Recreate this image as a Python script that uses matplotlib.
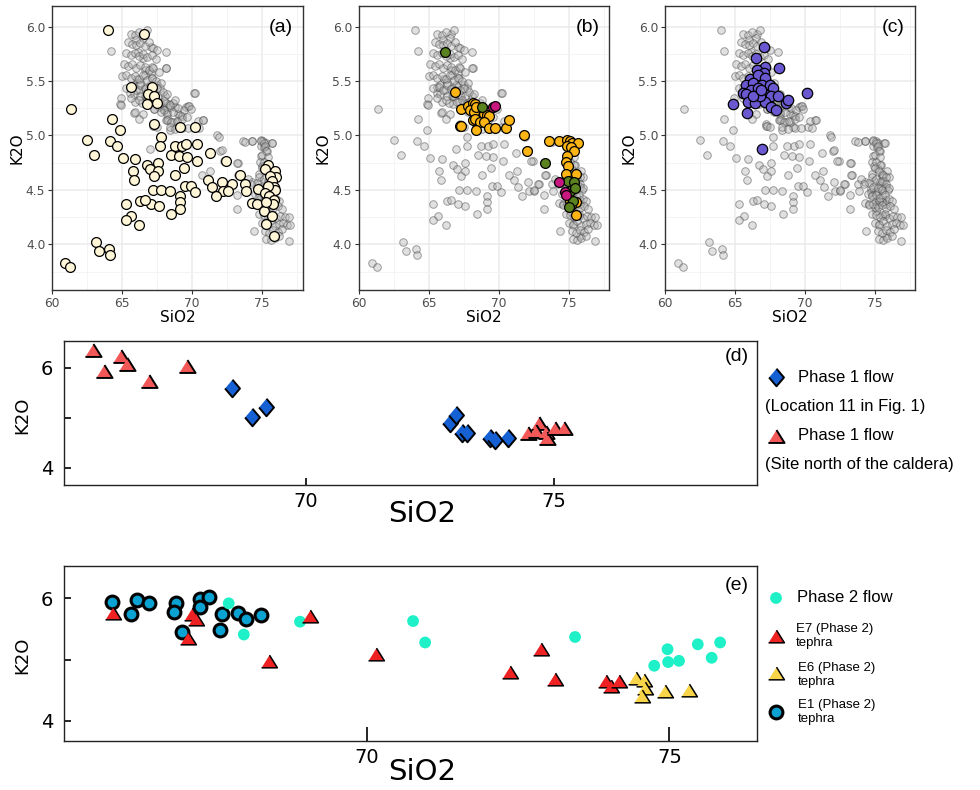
import numpy as np
import matplotlib.pyplot as plt

# ---- panels (a)-(c): glass compositions (SiO2, K2O) ----
# (a) highlighted samples (cream)
grp_a = [(64.0, 5.97), (66.57, 5.93), (61.33, 5.24), (65.6, 5.45), (67.1, 5.45), (66.86, 5.38),
         (67.26, 5.36), (66.74, 5.29), (67.5, 5.30), (64.24, 5.15), (67.24, 5.11), (64.83, 5.05),
         (69.12, 5.08), (70.21, 5.08), (62.5, 4.96), (64.12, 4.95), (64.64, 4.90), (67.74, 4.99),
         (67.69, 4.90), (68.76, 4.90), (69.24, 4.90), (69.55, 4.92), (70.36, 4.92), (62.98, 4.82),
         (65.07, 4.79), (65.93, 4.78), (68.5, 4.82), (69.05, 4.81), (69.6, 4.80), (70.31, 4.77),
         (71.26, 4.84), (72.45, 4.77), (66.74, 4.73), (66.98, 4.69), (67.55, 4.75), (69.45, 4.70),
         (65.74, 4.67), (67.55, 4.67), (67.26, 4.63), (68.79, 4.64), (65.83, 4.59), (73.4, 4.64),
         (71.12, 4.59), (71.4, 4.53), (72.1, 4.57), (72.86, 4.55), (73.81, 4.55), (73.88, 4.49),
         (67.17, 4.50), (67.74, 4.50), (68.4, 4.49), (69.5, 4.54), (69.9, 4.54), (70.19, 4.48),
         (72.17, 4.49), (72.55, 4.49), (71.69, 4.44), (69.12, 4.44), (69.14, 4.39), (69.14, 4.32),
         (67.07, 4.37), (67.6, 4.35), (66.26, 4.40), (66.6, 4.41), (65.26, 4.37), (68.45, 4.28),
         (65.62, 4.26), (65.26, 4.22), (66.21, 4.18), (74.71, 4.51), (74.29, 4.38), (74.6, 4.37),
         (75.1, 4.31), (75.31, 4.19), (75.74, 4.26), (75.83, 4.08), (75.43, 4.73), (75.24, 4.69),
         (75.9, 4.67), (76.02, 4.62), (75.55, 4.63), (75.67, 4.58), (75.83, 4.53), (75.93, 4.50),
         (75.43, 4.54), (75.19, 4.47), (75.5, 4.44), (75.83, 4.41), (75.79, 4.37), (75.31, 4.39),
         (63.12, 4.02), (63.36, 3.94), (64.07, 3.96), (64.12, 3.90), (60.9, 3.83), (61.26, 3.79)]

# (b) highlighted samples
grp_b_orange = [(66.84, 5.40), (67.27, 5.24), (67.79, 5.27), (68.14, 5.30), (68.33, 5.29), (67.95, 5.23),
                (68.19, 5.22), (68.38, 5.26), (68.97, 5.20), (69.16, 5.19), (69.28, 5.18), (67.19, 5.09),
                (67.28, 5.09), (68.14, 5.14), (68.28, 5.15), (68.62, 5.12), (68.93, 5.12), (68.38, 5.05),
                (69.28, 5.07), (69.73, 5.07), (70.51, 5.07), (70.75, 5.14), (71.8, 5.00), (72.01, 4.86),
                (73.6, 4.95), (74.27, 4.95), (74.91, 4.96), (75.07, 4.95), (75.26, 4.93), (75.69, 4.93),
                (74.91, 4.90), (75.14, 4.89), (75.38, 4.86), (74.91, 4.81), (74.83, 4.76), (74.98, 4.72),
                (74.79, 4.65), (75.5, 4.65), (75.5, 4.39), (75.5, 4.27), (75.07, 4.40), (75.19, 4.36)]
grp_b_green = [(66.15, 5.77), (68.78, 5.26), (73.29, 4.75), (74.95, 4.58), (75.4, 4.57), (75.1, 4.49),
               (75.3, 4.40), (75.05, 4.34), (75.45, 4.52)]
grp_b_pink = [(69.57, 5.26), (69.73, 5.27), (74.27, 4.57), (74.74, 4.48), (74.83, 4.45)]

# (c) highlighted samples (purple)
grp_c = [(67.05, 5.81), (66.48, 5.71), (68.12, 5.62), (67.14, 5.63), (66.6, 5.60), (67.05, 5.57),
         (66.05, 5.52), (66.65, 5.56), (67.12, 5.53), (65.82, 5.46), (66.29, 5.48), (66.96, 5.46),
         (67.48, 5.46), (67.72, 5.44), (66.17, 5.42), (66.65, 5.44), (65.58, 5.39), (65.82, 5.38),
         (66.65, 5.36), (67.24, 5.37), (67.55, 5.36), (68.07, 5.36), (70.14, 5.39), (64.87, 5.29),
         (65.94, 5.31), (66.41, 5.30), (67.12, 5.31), (67.6, 5.26), (68.66, 5.30), (68.78, 5.33),
         (65.86, 5.21), (67.95, 5.23), (66.95, 4.88), (66.77, 5.36), (66.29, 5.36), (66.84, 5.42)]

# remaining samples, only shown as the grey background
grp_other = [(65.6, 5.93), (65.9, 5.92), (66.2, 5.95), (66.5, 5.90), (66.8, 5.97), (66.0, 5.88),
             (65.4, 5.86), (65.7, 5.84), (66.0, 5.83), (66.3, 5.85), (66.6, 5.82), (66.9, 5.86),
             (67.2, 5.80), (67.5, 5.79), (65.3, 5.76), (65.6, 5.74), (65.9, 5.76), (66.2, 5.73),
             (66.5, 5.75), (66.8, 5.72), (67.1, 5.74), (67.4, 5.70), (65.1, 5.66), (65.4, 5.64),
             (65.7, 5.66), (66.0, 5.62), (66.3, 5.65), (66.6, 5.63), (66.9, 5.60), (67.2, 5.62),
             (67.6, 5.58), (65.0, 5.55), (65.3, 5.56), (65.6, 5.53), (65.9, 5.55), (66.2, 5.52),
             (66.5, 5.56), (66.8, 5.51), (67.1, 5.53), (67.4, 5.50), (67.8, 5.48), (65.3, 5.44),
             (65.7, 5.45), (66.0, 5.42), (66.3, 5.46), (66.6, 5.43), (66.9, 5.40), (67.2, 5.42),
             (67.5, 5.44), (67.9, 5.40), (68.2, 5.38), (65.6, 5.34), (66.2, 5.33), (66.7, 5.36),
             (67.0, 5.31), (67.4, 5.33), (67.7, 5.30), (68.0, 5.32), (68.4, 5.28), (66.5, 5.20),
             (67.3, 5.24), (67.8, 5.22), (68.2, 5.20), (68.6, 5.22), (69.0, 5.25), (69.4, 5.23),
             (69.8, 5.27), (69.9, 5.24), (68.2, 5.14), (68.5, 5.12), (68.9, 5.13), (69.3, 5.15),
             (69.6, 5.17), (68.4, 5.08), (68.8, 5.06), (70.4, 5.13), (70.8, 5.14), (67.5, 5.08),
             (64.2, 5.78), (68.1, 5.77), (68.1, 5.62), (70.2, 5.39), (64.9, 5.34), (64.9, 5.28),
             (65.9, 5.22), (66.2, 5.15),
             (74.3, 4.95), (74.9, 4.95), (75.1, 4.93), (75.7, 4.93), (75.2, 4.90), (75.3, 4.86),
             (75.0, 4.82), (75.4, 4.80), (75.1, 4.76), (75.4, 4.73), (75.0, 4.70), (75.3, 4.67),
             (75.6, 4.64), (74.8, 4.62), (75.1, 4.60), (75.5, 4.58), (75.8, 4.62), (74.6, 4.56),
             (74.9, 4.53), (75.2, 4.52), (75.5, 4.50), (75.8, 4.55), (76.0, 4.52), (74.5, 4.46),
             (74.8, 4.44), (75.1, 4.45), (75.4, 4.43), (75.7, 4.45), (76.0, 4.42), (76.2, 4.40),
             (74.6, 4.36), (74.9, 4.37), (75.2, 4.34), (75.5, 4.36), (75.8, 4.33), (76.1, 4.35),
             (76.4, 4.32), (74.8, 4.28), (75.1, 4.27), (75.4, 4.25), (75.7, 4.28), (76.0, 4.24),
             (76.3, 4.26), (76.6, 4.25), (75.0, 4.20), (75.3, 4.18), (75.6, 4.21), (75.9, 4.17),
             (76.2, 4.19), (76.5, 4.20), (76.8, 4.18), (75.2, 4.12), (75.5, 4.10), (75.8, 4.13),
             (76.1, 4.11), (76.4, 4.14), (75.3, 4.05), (75.6, 4.04), (75.9, 4.06), (76.2, 4.08),
             (74.4, 4.12), (76.9, 4.03), (77.0, 4.18), (76.9, 4.25),
             (72.1, 4.87), (72.3, 4.77), (73.2, 4.75), (73.3, 4.64), (72.8, 4.55), (72.5, 4.50),
             (73.2, 4.45), (73.2, 4.32), (71.9, 4.99), (70.7, 4.64), (71.3, 4.67), (73.8, 4.94),
             (74.0, 4.60), (74.2, 4.55)]

# ---- panel (d): Phase 1 flow ----
d_loc11 = [(68.51, 5.60), (68.91, 5.02), (69.19, 5.22), (72.91, 4.89), (73.03, 5.06), (73.14, 4.70),
           (73.24, 4.70), (73.71, 4.59), (73.81, 4.56), (74.08, 4.60)]
d_north = [(65.70, 6.35), (65.92, 5.93), (66.26, 6.23), (66.39, 6.08), (66.83, 5.74), (67.59, 6.04),
           (74.48, 4.70), (74.71, 4.90), (74.64, 4.74), (74.85, 4.71), (74.86, 4.59), (75.03, 4.79),
           (75.21, 4.79)]

# ---- panel (e): Phase 2 flow and tephra ----
e_e1 = [(65.78, 5.94), (66.09, 5.75), (66.19, 5.97), (66.39, 5.92), (66.83, 5.92), (66.80, 5.78),
        (66.93, 5.45), (67.24, 5.99), (67.24, 5.86), (67.39, 6.03), (67.60, 5.74), (67.57, 5.48),
        (67.87, 5.77), (68.00, 5.66), (68.24, 5.73)]
e_flow = [(67.71, 5.92), (68.89, 5.62), (67.96, 5.41), (70.76, 5.63), (70.96, 5.28), (73.44, 5.37),
          (74.97, 5.17), (74.75, 4.90), (74.98, 4.96), (75.16, 4.98), (75.47, 5.25), (75.70, 5.03),
          (75.84, 5.28)]
e_e7 = [(65.79, 5.77), (67.10, 5.74), (67.17, 5.67), (67.04, 5.36), (68.37, 4.98), (69.05, 5.71),
        (70.14, 5.09), (72.37, 4.79), (72.87, 5.18), (73.11, 4.68), (73.96, 4.65), (74.04, 4.57),
        (74.17, 4.65)]
e_e6 = [(74.45, 4.70), (74.58, 4.67), (74.59, 4.53), (74.55, 4.41), (74.92, 4.48), (75.33, 4.50)]

W, H = 980, 790
DIAMOND = [(0, 1), (0.85, 0), (0, -1), (-0.85, 0)]
TRIANGLE = [(0, 0.8), (1, -0.8), (-1, -0.8)]


def xy(pts):
    a = np.array(pts)
    return a[:, 0], a[:, 1]


def box(l, t, r, b):
    # pixel box -> figure fraction
    return [l / W, 1 - b / H, (r - l) / W, (b - t) / H]


fig = plt.figure(figsize=(9.8, 7.9), dpi=100)

all_pts = grp_a + grp_b_orange + grp_b_green + grp_b_pink + grp_c + grp_other
gx, gy = xy(all_pts)

top_panels = [
    ('(a)', box(52.3, 6, 302.7, 290), [(grp_a, '#FFF6D8', 50)]),
    ('(b)', box(359, 6, 609.3, 290), [(grp_b_orange, '#FDB515', 50), (grp_b_green, '#5A821F', 50),
                                     (grp_b_pink, '#C8177F', 50)]),
    ('(c)', box(665, 6, 915.3, 290), [(grp_c, '#6A58D0', 56)]),
]

for tag, pos, groups in top_panels:
    ax = fig.add_axes(pos)
    ax.set_xlim(60.0, 77.9)
    ax.set_ylim(3.58, 6.19)
    ax.set_xticks([60, 65, 70, 75])
    ax.set_yticks([4.0, 4.5, 5.0, 5.5, 6.0])
    ax.set_yticklabels(['4.0', '4.5', '5.0', '5.5', '6.0'])
    ax.set_xticks([62.5, 67.5, 72.5, 77.5], minor=True)
    ax.set_yticks([3.75, 4.25, 4.75, 5.25, 5.75], minor=True)
    ax.grid(True, which='major', color='#EBEBEB', lw=1.1, zorder=0)
    ax.grid(True, which='minor', color='#F3F3F3', lw=0.6, zorder=0)
    ax.set_axisbelow(True)
    ax.tick_params(which='major', direction='out', length=3, width=0.8, color='#333333',
                   labelsize=8.8, labelcolor='#4D4D4D', pad=2)
    ax.tick_params(which='minor', length=0)
    for s in ax.spines.values():
        s.set_color('#333333')
        s.set_linewidth(1.0)
    ax.scatter(gx, gy, s=30, facecolors=(0.7, 0.7, 0.7, 0.4),
               edgecolors=(0.28, 0.28, 0.28, 0.5), linewidths=0.7, zorder=2)
    for pts, col, size in groups:
        px, py = xy(pts)
        ax.scatter(px, py, s=size, facecolors=col, edgecolors='black', linewidths=0.9, zorder=3)
    ax.text(0.912, 0.926, tag, transform=ax.transAxes, ha='center', va='center', fontsize=14,
            family='Liberation Sans')
    ax.text(-0.142, 0.5, 'K2O', transform=ax.transAxes, rotation=90, ha='center', va='center',
            fontsize=11)
    ax.text(0.5, -0.098, 'SiO2', transform=ax.transAxes, ha='center', va='center', fontsize=11)


def bottom_axes(pos, xlim, ylim, tag, tag_y, k_y, s_y, xtick_len):
    ax = fig.add_axes(pos)
    ax.set_xlim(*xlim)
    ax.set_ylim(*ylim)
    ax.set_xticks([70, 75])
    ax.set_xticklabels(['70', '75'])
    ax.set_yticks([4, 5, 6])
    ax.set_yticklabels(['4', '', '6'])
    ax.tick_params(axis='x', direction='in', length=xtick_len, width=1.2, labelsize=14, pad=5)
    ax.tick_params(axis='y', direction='in', length=5, width=1.2, labelsize=14, pad=8)
    for s in ax.spines.values():
        s.set_color('#222222')
        s.set_linewidth(1.0)
    ax.text(0.971, tag_y, tag, transform=ax.transAxes, ha='center', va='center', fontsize=14,
            family='Liberation Sans')
    ax.text(-0.06, k_y, 'K2O', transform=ax.transAxes, rotation=90, ha='center', va='center',
            fontsize=13)
    ax.text(0.516, s_y, 'SiO2', transform=ax.transAxes, ha='center', va='center', fontsize=21)
    return ax


# (d)
axd = bottom_axes(box(64.3, 341, 757, 485), (65.12, 79.10), (3.65, 6.53), '(d)', 0.895, 0.483,
                  -0.20, 5)
px, py = xy(d_loc11)
axd.scatter(px, py, s=160, marker=DIAMOND, facecolors='#1560D2', edgecolors='black',
            linewidths=1.4, zorder=3)
px, py = xy(d_north)
axd.scatter(px, py, s=135, marker=TRIANGLE, facecolors='#F25858', edgecolors='black',
            linewidths=1.4, zorder=4)

# (e)
axe = bottom_axes(box(64.3, 566, 757, 741), (64.99, 76.45), (3.67, 6.53), '(e)', 0.891, 0.49,
                  -0.177, 10)
px, py = xy(e_e1)
axe.scatter(px, py, s=85, facecolors='#0AA2D2', edgecolors='black', linewidths=2.2, zorder=3)
px, py = xy(e_flow)
axe.scatter(px, py, s=72, facecolors='#1EF0C8', edgecolors='none', zorder=4)
px, py = xy(e_e7)
axe.scatter(px, py, s=130, marker=TRIANGLE, facecolors='#EE2222', edgecolors='black',
            linewidths=1.1, zorder=5)
px, py = xy(e_e6)
axe.scatter(px, py, s=130, marker=TRIANGLE, facecolors='#F8D548', edgecolors='black',
            linewidths=1.1, zorder=5)

# legends, drawn on an overlay in pixel units
lg = fig.add_axes([0, 0, 1, 1], zorder=10)
lg.set_xlim(0, W)
lg.set_ylim(H, 0)
lg.axis('off')
lg.patch.set_alpha(0)

lf = dict(family='Liberation Sans', va='center', ha='left')
lg.scatter([776], [377], s=160, marker=DIAMOND, facecolors='#1560D2', edgecolors='black', linewidths=1.4)
lg.text(798, 377, 'Phase 1 flow', fontsize=12, **lf)
lg.text(765, 406, '(Location 11 in Fig. 1)', fontsize=12, **lf)
lg.scatter([776], [436], s=135, marker=TRIANGLE, facecolors='#F25858', edgecolors='black', linewidths=1.4)
lg.text(798, 436, 'Phase 1 flow', fontsize=12, **lf)
lg.text(765, 465, '(Site north of the caldera)', fontsize=12, **lf)

lg.scatter([776], [598], s=72, facecolors='#1EF0C8', edgecolors='none')
lg.text(797, 598, 'Phase 2 flow', fontsize=12, **lf)
lg.scatter([776], [636], s=130, marker=TRIANGLE, facecolors='#EE2222', edgecolors='black', linewidths=1.1)
lg.text(796, 636, 'E7 (Phase 2)\ntephra', fontsize=9.5, linespacing=1.15, **lf)
lg.scatter([776], [673], s=130, marker=TRIANGLE, facecolors='#F8D548', edgecolors='black', linewidths=1.1)
lg.text(798, 675, 'E6 (Phase 2)\ntephra', fontsize=9.5, linespacing=1.15, **lf)
lg.scatter([776], [712], s=85, facecolors='#0AA2D2', edgecolors='black', linewidths=2.2)
lg.text(798, 712, 'E1 (Phase 2)\ntephra', fontsize=9.5, linespacing=1.15, **lf)

fig.savefig('out.png', dpi=100)
